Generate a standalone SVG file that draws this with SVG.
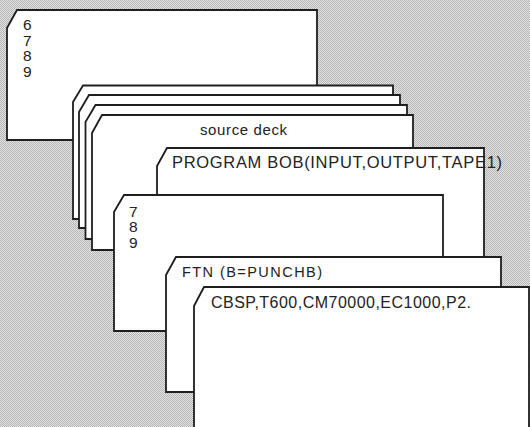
<svg xmlns="http://www.w3.org/2000/svg" width="530" height="427" viewBox="0 0 530 427">
<defs>
<pattern id="halftone" width="2" height="2" patternUnits="userSpaceOnUse">
<rect width="2" height="2" fill="#e6e6e6"/>
<rect width="1" height="1" fill="#b2b2b2"/>
<rect x="1" y="1" width="1" height="1" fill="#b2b2b2"/>
</pattern>
<style>
.card{fill:#fff;stroke:#1e1e1e;stroke-width:1.8;stroke-linejoin:miter}
.t{font-family:"Liberation Sans",Arial,Helvetica,sans-serif;fill:#222}
</style>
</defs>
<rect width="530" height="427" fill="url(#halftone)"/>
<g id="card-6789">
<polygon class="card" points="7,28 17,10 317,10 317,140 7,140"/>
<text class="t" font-size="15.5"><tspan x="23" y="30">6</tspan><tspan x="23" y="45.5">7</tspan><tspan x="23" y="61">8</tspan><tspan x="23" y="76.5">9</tspan></text>
</g>
<g id="deck-card-1">
<polygon class="card" points="73,102 83,85.5 393,85.5 393,219 73,219"/>
</g>
<g id="deck-card-2">
<polygon class="card" points="79,112 89,95 400,95 400,228 79,228"/>
</g>
<g id="deck-card-3">
<polygon class="card" points="85.5,122 95.5,105 407,105 407,239 85.5,239"/>
</g>
<g id="source-deck">
<polygon class="card" points="92,133 102,115 413,115 413,250 92,250"/>
<text class="t" x="200" y="135" font-size="15" textLength="87" lengthAdjust="spacing">source deck</text>
</g>
<g id="program-card">
<polygon class="card" points="157,166 167,148 484,148 484,300 157,300"/>
<text class="t" x="172" y="168" font-size="16.5" textLength="330" lengthAdjust="spacing">PROGRAM BOB(INPUT,OUTPUT,TAPE1)</text>
</g>
<g id="card-789">
<polygon class="card" points="114,212 124,195 443,195 443,331 114,331"/>
<text class="t" font-size="15.5"><tspan x="129" y="216.5">7</tspan><tspan x="129" y="232">8</tspan><tspan x="129" y="247.5">9</tspan></text>
</g>
<g id="ftn-card">
<polygon class="card" points="166,275 176,257 501,257 501,392 166,392"/>
<text class="t" x="182" y="277" font-size="14.5" textLength="140" lengthAdjust="spacing">FTN (B=PUNCHB)</text>
</g>
<g id="job-card">
<polygon class="card" points="194,306 204,287 529,287 529,440 194,440"/>
<text class="t" x="211" y="308" font-size="16" textLength="260" lengthAdjust="spacing">CBSP,T600,CM70000,EC1000,P2.</text>
</g>
<g id="connectors"/>
</svg>
